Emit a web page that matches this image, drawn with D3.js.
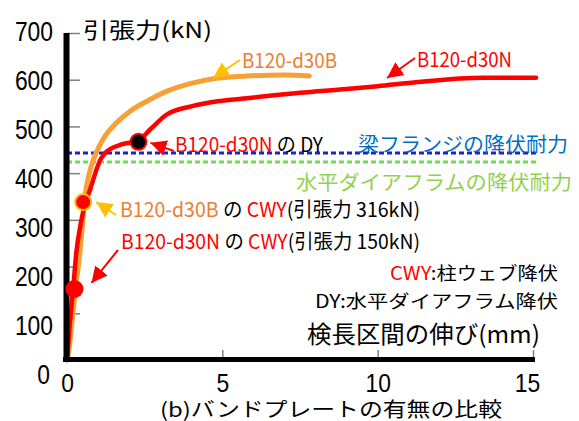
<!DOCTYPE html>
<html>
<head>
<meta charset="utf-8">
<script src="https://cdn.jsdelivr.net/npm/d3@7"></script>
<style>
  body { margin: 0; background: #fff; }
  svg { display: block; }
  text { font-family: "Noto Sans CJK JP", sans-serif; }
  .num { font-family: "Liberation Sans", Arial, sans-serif; }
</style>
</head>
<body>
<svg id="chart" width="579" height="421"></svg>
<script>
// tick values
var yTicks = [0, 100, 200, 300, 400, 500, 600, 700];
var xTicks = [0, 5, 10, 15];

// B120-d30B (orange) : elongation mm / tensile force kN
var d30bStrain = [0, 0.06, 0.16, 0.27, 0.4, 0.5, 0.58, 0.7, 0.87, 1.04, 1.25, 1.55, 2.04, 2.6, 3.2, 4.0, 4.7, 5.8, 7.0, 7.8];
var d30bForce  = [0, 20, 80, 150, 220, 290, 350, 395, 432, 458, 482, 505, 533, 555, 575, 592, 602, 608, 610, 608];

// B120-d30N (red)
var d30nStrain = [0, 0.08, 0.2, 0.3, 0.45, 0.6, 0.74, 0.91, 1.07, 1.23, 1.46, 1.78, 2.3, 2.7, 3.2, 4.0, 5.0, 6.0, 7.5, 9.0, 10.0, 11.3, 13.4, 15.1];
var d30nForce  = [0, 70, 154, 230, 295, 338, 364, 400, 428, 443, 454, 462, 470, 495, 525, 543, 555, 562, 572, 580, 586, 595, 604, 604];

// yield strength lines (kN)
var flangeYield = 443;
var diaphragmYield = 424;

// marked points [mm, kN]
var cwyD30B = [0.52, 338];
var cwyD30N = [0.24, 152];
var dyD30N = [2.3, 467];

var svg = d3.select("#chart");

var x = d3.scaleLinear().domain([0, 15]).range([67, 533]);
var y = d3.scaleLinear().domain([0, 700]).range([360, 33]);
// labels sit on a slightly longer ladder than the ticks in the original
var yLabel = d3.scaleLinear().domain([0, 700]).range([375, 32]);

var defs = svg.append("defs");
function arrowHead(id, color){
	defs.append("marker")
		.attr("id", id)
		.attr("viewBox", "0 0 10 10")
		.attr("refX", 10).attr("refY", 5)
		.attr("markerUnits", "userSpaceOnUse")
		.attr("markerWidth", 16).attr("markerHeight", 16)
		.attr("orient", "auto")
		.append("path")
			.attr("d", "M0,0 L10,5 L0,10 Z")
			.attr("fill", color);
}
arrowHead("headRed", "#ff0000");
arrowHead("headYellow", "#ffc000");

// grey tick marks inside the plot
var yTickAxis = svg.append("g")
	.attr("transform", "translate(67,0)")
	.call(d3.axisLeft(y).tickValues(yTicks).tickSizeInner(-13).tickSizeOuter(0).tickFormat(""));
yTickAxis.select(".domain").remove();
yTickAxis.selectAll("line").attr("stroke", "#808080").attr("stroke-width", 1.5);

var xTickAxis = svg.append("g")
	.attr("transform", "translate(0,359)")
	.call(d3.axisBottom(x).tickValues(xTicks.slice(1)).tickSizeInner(-9).tickSizeOuter(0).tickFormat(""));
xTickAxis.select(".domain").remove();
xTickAxis.selectAll("line").attr("stroke", "#808080").attr("stroke-width", 1.5);

// tick labels (condensed digits)
var yLab = svg.append("g")
	.attr("transform", "translate(53,0)")
	.call(d3.axisLeft(yLabel).tickValues(yTicks).tickSize(0).tickPadding(0));
yLab.select(".domain").remove();
yLab.selectAll("text").attr("class", "num").attr("font-size", 27).attr("fill", "#000")
	.attr("textLength", function(d){ return String(d).length * 12.7; })
	.attr("lengthAdjust", "spacingAndGlyphs");
yLab.selectAll("text").filter(function(d){ return d === 0; }).attr("x", -3);

var xLab = svg.append("g")
	.attr("transform", "translate(0,374)")
	.call(d3.axisBottom(x).tickValues(xTicks).tickSize(0).tickPadding(0));
xLab.select(".domain").remove();
xLab.selectAll("text").attr("class", "num").attr("font-size", 26).attr("fill", "#000")
	.attr("textLength", function(d){ return String(d).length * 12.7; })
	.attr("lengthAdjust", "spacingAndGlyphs");
xLab.selectAll("text").filter(function(d){ return d === 15; }).attr("x", -6);

// yield strength dashed lines
svg.append("line")
	.attr("x1", x(0)).attr("x2", 537)
	.attr("y1", y(flangeYield)).attr("y2", y(flangeYield))
	.attr("stroke", "#1e22c8").attr("stroke-width", 3).attr("stroke-dasharray", "5,3");
svg.append("line")
	.attr("x1", x(0)).attr("x2", 537)
	.attr("y1", y(diaphragmYield)).attr("y2", y(diaphragmYield))
	.attr("stroke", "#66e050").attr("stroke-width", 3).attr("stroke-dasharray", "5,3");

// curves
var line = d3.line()
	.x(function(d){ return x(d[0]); })
	.y(function(d){ return y(d[1]); })
	.curve(d3.curveMonotoneX);

svg.append("path")
	.datum(d30bStrain.map(function(v, i){ return [v, d30bForce[i]]; }))
	.attr("d", line)
	.attr("fill", "none").attr("stroke", "#f7a035").attr("stroke-width", 5)
	.attr("stroke-linecap", "round").attr("stroke-linejoin", "round");

svg.append("path")
	.datum(d30nStrain.map(function(v, i){ return [v, d30nForce[i]]; }))
	.attr("d", line)
	.attr("fill", "none").attr("stroke", "#ff0000").attr("stroke-width", 4.5)
	.attr("stroke-linecap", "round").attr("stroke-linejoin", "round");

// axis lines
svg.append("line")
	.attr("x1", 66.5).attr("x2", 66.5).attr("y1", y(700)).attr("y2", 362)
	.attr("stroke", "#000").attr("stroke-width", 6);
svg.append("line")
	.attr("x1", 63).attr("x2", 535).attr("y1", 359.5).attr("y2", 359.5)
	.attr("stroke", "#000").attr("stroke-width", 5);

// marked points
svg.append("circle")
	.attr("cx", x(cwyD30N[0])).attr("cy", y(cwyD30N[1])).attr("r", 9)
	.attr("fill", "#ff0000");
svg.append("circle")
	.attr("cx", x(cwyD30B[0])).attr("cy", y(cwyD30B[1])).attr("r", 8)
	.attr("fill", "#ff0000").attr("stroke", "#ffc000").attr("stroke-width", 2);
svg.append("circle")
	.attr("cx", x(dyD30N[0])).attr("cy", y(dyD30N[1])).attr("r", 8)
	.attr("fill", "#000").attr("stroke", "#ff0000").attr("stroke-width", 2);

// arrows
function arrow(x1, y1, x2, y2, color, head){
	svg.append("line")
		.attr("x1", x1).attr("y1", y1).attr("x2", x2).attr("y2", y2)
		.attr("stroke", color).attr("stroke-width", 2)
		.attr("marker-end", "url(#" + head + ")");
}
arrow(240, 60, 213, 78, "#ffc000", "headYellow");
arrow(415, 58, 387, 78, "#ff0000", "headRed");
arrow(174, 151, x(dyD30N[0]) + 12, y(dyD30N[1]) + 1, "#ff0000", "headRed");
arrow(116, 215, x(cwyD30B[0]) + 13, y(cwyD30B[1]), "#ffc000", "headYellow");
arrow(118, 250, x(cwyD30N[0]) + 17, y(cwyD30N[1]) - 6, "#ff0000", "headRed");

// text
function label(px, py, parts, size, width, anchor){
	var t = svg.append("text")
		.attr("x", px).attr("y", py)
		.attr("font-size", size)
		.attr("dominant-baseline", "central")
		.attr("text-anchor", anchor || "start");
	if(width) t.attr("textLength", width).attr("lengthAdjust", "spacingAndGlyphs");
	parts.forEach(function(p){
		t.append("tspan").attr("fill", p[1]).text(p[0]);
	});
	return t;
}

label(83, 28, [["引張力(kN)", "#000"]], 22, 129);
label(242, 59, [["B120-d30B", "#ed7d31"]], 20, 95);
label(417, 58, [["B120-d30N", "#ff0000"]], 20, 95);
label(175, 143, [["B120-d30N", "#ff0000"], [" の DY", "#000"]], 20, 148);
label(358, 143, [["梁フランジの降伏耐力", "#0070c0"]], 20, 210);
label(296, 181, [["水平ダイアフラムの降伏耐力", "#92d050"]], 20, 276);
label(120, 208, [["B120-d30B", "#ed7d31"], [" の ", "#000"], ["CWY", "#ff0000"], ["(引張力 316kN)", "#000"]], 20, 300);
label(121, 240, [["B120-d30N", "#ff0000"], [" の ", "#000"], ["CWY", "#ff0000"], ["(引張力 150kN)", "#000"]], 20, 299);
label(558, 272, [["CWY", "#ff0000"], [":柱ウェブ降伏", "#000"]], 18, 168, "end");
label(558, 300, [["DY:水平ダイアフラム降伏", "#000"]], 18, 243, "end");
label(307, 332, [["検長区間の伸び(mm)", "#000"]], 24, 233);
label(160, 408, [["(b)バンドプレートの有無の比較", "#000"]], 20, 342);
</script>
</body>
</html>
